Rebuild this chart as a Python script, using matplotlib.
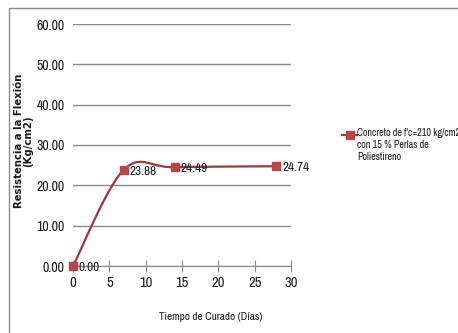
import numpy as np
import matplotlib
matplotlib.use("Agg")
import matplotlib.pyplot as plt
from matplotlib.patches import Rectangle

dias = [0, 7, 14, 28]
resistencia = [0.00, 23.88, 24.49, 24.74]
etiquetas = ["0.00", "23.88", "24.49", "24.74"]
x_ticks = [0, 5, 10, 15, 20, 25, 30]
y_ticks = [0, 10, 20, 30, 40, 50, 60]
serie = "Concreto de f'c=210 kg/cm2\ncon 15 % Perlas de\nPoliestireno"

plt.rcParams["font.family"] = ["Archivo Narrow", "DejaVu Sans"]

rojo = "#9b3a3e"
marca = "#b5474c"
gris = "#8a8a8a"
texto = "#1a1a1a"


def suavizar(xs, ys, n=40):
    # smoothed line: cubic Bezier pieces with Catmull-Rom handles
    xs = np.asarray(xs, float)
    ys = np.asarray(ys, float)
    px = np.concatenate([[xs[0]], xs, [xs[-1]]])
    py = np.concatenate([[ys[0]], ys, [ys[-1]]])
    ox, oy = [], []
    t = np.linspace(0, 1, n)
    b = [(1 - t) ** 3, 3 * (1 - t) ** 2 * t, 3 * (1 - t) * t ** 2, t ** 3]
    for i in range(1, len(px) - 2):
        c1x = px[i] + (px[i + 1] - px[i - 1]) / 6
        c1y = py[i] + (py[i + 1] - py[i - 1]) / 6
        c2x = px[i + 1] - (px[i + 2] - px[i]) / 6
        c2y = py[i + 1] - (py[i + 2] - py[i]) / 6
        ox.extend(b[0] * px[i] + b[1] * c1x + b[2] * c2x + b[3] * px[i + 1])
        oy.extend(b[0] * py[i] + b[1] * c1y + b[2] * c2y + b[3] * py[i + 1])
    return ox, oy


fig = plt.figure(figsize=(4.58, 3.33), dpi=100)
fig.patches.append(Rectangle((9 / 458, -0.01), 1.0, 1 - 8 / 333 + 0.01, transform=fig.transFigure,
                             fill=False, edgecolor=gris, lw=1.0))
ax = fig.add_axes([73 / 458, 1 - 266 / 333, 218 / 458, 242 / 333])

sx, sy = suavizar(dias, resistencia)
ax.plot(sx, sy, color=rojo, lw=1.6, zorder=3, clip_on=False)
ax.plot(dias, resistencia, ls="none", marker="s", ms=5.5, color=marca, zorder=4, clip_on=False)
for x, y, t in zip(dias, resistencia, etiquetas):
    ax.annotate(t, (x, y), xytext=(4, -1), textcoords="offset points", va="center", ha="left",
                fontsize=9.5, color=texto)

ax.set_xlim(0, 30)
ax.set_ylim(0, 60)
ax.set_xticks(x_ticks)
ax.set_yticks(y_ticks)
ax.set_yticklabels(["%.2f" % v for v in y_ticks])
ax.yaxis.grid(True, color=gris, lw=1.0)
ax.set_axisbelow(True)
for s in ["top", "right", "left"]:
    ax.spines[s].set_visible(False)
ax.spines["bottom"].set_color(gris)
ax.tick_params(axis="x", direction="inout", length=8, color=gris, labelsize=10.5, pad=3,
               labelcolor=texto)
ax.tick_params(axis="y", length=0, labelsize=10, pad=6, labelcolor=texto)

fig.text(24 / 458, 1 - 141 / 333, "Resistencia a la Flexión\n(Kg/cm2)", rotation=90, ha="center",
         va="center", fontsize=7.3, fontweight="bold", family="DejaVu Sans", linespacing=0.9,
         color=texto)
fig.text(211 / 458, 1 - 317 / 333, "Tiempo de Curado (Días)", ha="center", va="center",
         fontsize=8, color=texto)

fig.lines.append(plt.Line2D([342 / 458, 357 / 458], [1 - 135 / 333] * 2, transform=fig.transFigure,
                            color=rojo, lw=1.6))
fig.lines.append(plt.Line2D([349.5 / 458], [1 - 135 / 333], transform=fig.transFigure, marker="s",
                            ms=5.5, color=marca, ls="none"))
fig.text(357 / 458, 1 - 128 / 333, serie, ha="left", va="top", fontsize=7.3, linespacing=1.25,
         color=texto)

fig.savefig("out.png", dpi=100)
